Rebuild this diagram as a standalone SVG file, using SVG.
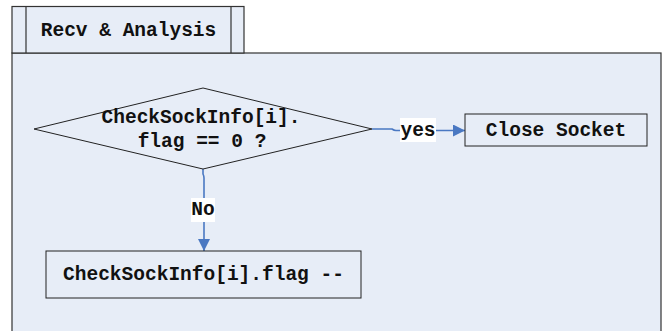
<svg xmlns="http://www.w3.org/2000/svg" width="668" height="331" viewBox="0 0 668 331">
<style>
.frame{fill:#e7edf7;stroke:#333;stroke-width:1.2}
.shape{fill:#e7edf7;stroke:#222;stroke-width:1}
.t{font-family:"Liberation Mono","Courier New",monospace;font-weight:bold;font-size:19.5px;fill:#111;text-anchor:middle}
.conn{fill:none;stroke:#4a78c2;stroke-width:1.6}
.lbl{fill:#fff}
</style>
<defs>
<marker id="arr" viewBox="0 0 12 12" refX="12" refY="6" markerWidth="12" markerHeight="12" markerUnits="userSpaceOnUse" orient="auto">
<path d="M0,0 L12,6 L0,12 z" fill="#4a78c2"/>
</marker>
</defs>
<g id="frame">
<rect class="frame" x="12" y="53" width="649" height="290"/>
<rect class="frame" x="12" y="6.5" width="232" height="46.5"/>
<line x1="26" y1="6.5" x2="26" y2="53" stroke="#333" stroke-width="1.2"/>
<line x1="231" y1="6.5" x2="231" y2="53" stroke="#333" stroke-width="1.2"/>
<text class="t" x="128.5" y="36">Recv &amp; Analysis</text>
</g>
<g id="connectors">
<path class="conn" d="M372,129 H392 Q394,130.5 396,130.5 H465" marker-end="url(#arr)"/>
<rect class="lbl" x="400" y="118" width="36" height="24"/>
<text class="t" x="418" y="136">yes</text>
<path class="conn" d="M203,169 V174 Q204,176 204,178 V251" marker-end="url(#arr)"/>
<rect class="lbl" x="191" y="198" width="24" height="24"/>
<text class="t" x="203" y="215">No</text>
</g>
<g id="decision">
<polygon class="shape" points="34,129 203,88 372,129 203,169"/>
<text class="t" x="201" y="123">CheckSockInfo[i].</text>
<text class="t" x="202" y="147">flag == 0 ?</text>
</g>
<g id="close">
<rect class="shape" x="465" y="114" width="182" height="32"/>
<text class="t" x="556" y="136">Close Socket</text>
</g>
<g id="decrement">
<rect class="shape" x="46" y="251" width="315" height="47"/>
<text class="t" x="203.5" y="280">CheckSockInfo[i].flag --</text>
</g>
</svg>
